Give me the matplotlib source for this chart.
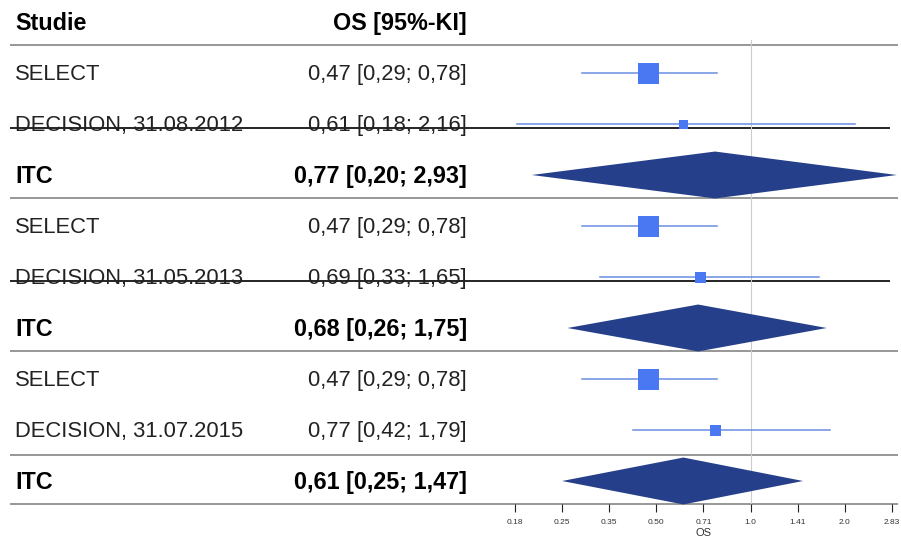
"""Forest plot: OS with 95% CI, three ITC comparisons."""

import matplotlib.pyplot as plt
from matplotlib.patches import Polygon
from matplotlib.ticker import FixedLocator, FixedFormatter, NullLocator

plt.rcParams["font.family"] = ["Liberation Sans", "DejaVu Sans"]

# data
studies = [
    "SELECT", "DECISION, 31.08.2012", "ITC",
    "SELECT", "DECISION, 31.05.2013", "ITC",
    "SELECT", "DECISION, 31.07.2015", "ITC",
]
estimates = [0.47, 0.61, 0.77, 0.47, 0.69, 0.68, 0.47, 0.77, 0.61]
lower = [0.29, 0.18, 0.20, 0.29, 0.33, 0.26, 0.29, 0.42, 0.25]
upper = [0.78, 2.16, 2.93, 0.78, 1.65, 1.75, 0.78, 1.79, 1.47]
pooled = [False, False, True, False, False, True, False, False, True]
tick_values = [0.1768, 0.25, 0.3536, 0.5, 0.7071, 1.0, 1.4142, 2.0, 2.8284]
tick_labels = ["0.18", "0.25", "0.35", "0.50", "0.71", "1.0", "1.41", "2.0", "2.83"]

# styling
marker_px = [21, 9, 0, 21, 11, 0, 21, 11, 0]
SQUARE = "#4a77f2"
CI_LINE = "#6a8ee2"
DIAMOND = "#253f8a"
BOLD_SIZE, REG_SIZE = 16.8, 15.8

W, H = 901, 546
TOP_PX, ROW_PX = 22, 51


def fmt(e, lo, hi):
    return f"{e:.2f} [{lo:.2f}; {hi:.2f}]".replace(".", ",")


fig = plt.figure(figsize=(W / 100, H / 100), dpi=100)

# full-figure axes for the table text and separators (y in row units)
tab = fig.add_axes([0, 0, 1, 1])
tab.set_xlim(0, W)
tab.set_ylim((H - TOP_PX) / ROW_PX, -TOP_PX / ROW_PX)
tab.axis("off")

TXT_DY = 0.03  # small nudge so cap letters sit centred on the row
tab.text(15, TXT_DY, "Studie", fontsize=BOLD_SIZE, fontweight="bold", va="center",
         color="black")
tab.text(467, TXT_DY, "OS [95%-KI]", fontsize=BOLD_SIZE, fontweight="bold",
         va="center", ha="right", color="black")

for i, (name, e, lo, hi, p) in enumerate(zip(studies, estimates, lower, upper, pooled)):
    r = i + 1 + TXT_DY
    kw = dict(fontweight="bold", color="black", fontsize=BOLD_SIZE) if p else dict(
        color="#222222", fontsize=REG_SIZE)
    tab.text(15, r, name, va="center", **kw)
    tab.text(467, r, fmt(e, lo, hi), va="center", ha="right", **kw)

tab.hlines([0.45, 3.45, 6.45, 8.5, 9.45], 10, 898, color="#7a7a7a", lw=1.1)
tab.hlines([2.08, 5.08], 10, 890, color="black", lw=1.2)

# forest axes, log2 scale
top_px, bot_px, left_px, right_px = 40, 504, 515, 892
ax = fig.add_axes([left_px / W, 1 - bot_px / H, (right_px - left_px) / W,
                   (bot_px - top_px) / H])
ax.set_xscale("log", base=2)
ax.set_xlim(tick_values[0], tick_values[-1])
ax.set_ylim((bot_px - TOP_PX) / ROW_PX, (top_px - TOP_PX) / ROW_PX)
ax.patch.set_alpha(0)
for s in ax.spines.values():
    s.set_visible(False)
ax.set_yticks([])
ax.xaxis.set_major_locator(FixedLocator(tick_values))
ax.xaxis.set_major_formatter(FixedFormatter(tick_labels))
ax.xaxis.set_minor_locator(NullLocator())
ax.tick_params(axis="x", length=6, width=0.8, color="#222222", labelsize=6,
               pad=5, labelcolor="#333333")
ax.set_xlabel("OS", fontsize=8, labelpad=1, color="#333333")

ax.axvline(1.0, color="#cccccc", lw=0.8, zorder=0)

for i, (e, lo, hi, p) in enumerate(zip(estimates, lower, upper, pooled)):
    r = i + 1
    if p:
        ax.add_patch(Polygon([(lo, r), (e, r - 0.46), (hi, r), (e, r + 0.46)],
                             closed=True, facecolor=DIAMOND, edgecolor="none",
                             clip_on=False, zorder=3))
    else:
        ax.plot([lo, hi], [r, r], color=CI_LINE, lw=1.1, zorder=2, clip_on=False)
        ax.plot(e, r, marker="s", ms=marker_px[i] * 0.72, color=SQUARE,
                markeredgewidth=0, zorder=3)

fig.savefig("out.png", dpi=100)
